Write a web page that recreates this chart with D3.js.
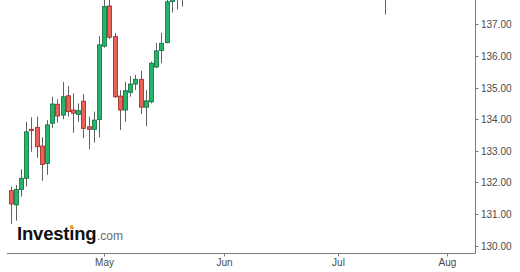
<!DOCTYPE html>
<html>
<head>
<meta charset="utf-8">
<script src="https://cdn.jsdelivr.net/npm/d3@7"></script>
<style>
  body { margin: 0; background: #fff; }
  svg { display: block; font-family: "Liberation Sans", Arial, sans-serif; }
</style>
</head>
<body>
<div id="chart"></div>
<script>
// USD/JPY daily candles (trading days, weekends skipped)
const dates = ["2023-04-05","2023-04-06","2023-04-07","2023-04-10","2023-04-11","2023-04-12","2023-04-13",
  "2023-04-14","2023-04-17","2023-04-18","2023-04-19","2023-04-20","2023-04-21","2023-04-24","2023-04-25",
  "2023-04-26","2023-04-27","2023-04-28","2023-05-01","2023-05-02","2023-05-03","2023-05-04","2023-05-05",
  "2023-05-08","2023-05-09","2023-05-10","2023-05-11","2023-05-12","2023-05-15","2023-05-16","2023-05-17",
  "2023-05-18","2023-05-19","2023-05-22","2023-07-14"];
const opens  = [131.74,131.29,131.78,132.13,133.68,133.74,133.15,132.60,133.87,134.47,134.13,134.74,134.29,134.15,
  134.57,133.76,133.68,133.99,136.31,137.58,136.61,134.73,134.29,134.85,135.11,135.26,134.38,134.55,135.65,
  136.17,136.42,137.72,138.65,137.95,138.05];
const highs  = [131.87,131.92,132.42,133.92,134.06,134.08,133.43,133.97,134.71,134.63,135.18,135.05,134.82,134.50,
  134.79,134.08,134.24,136.63,137.83,137.90,136.72,134.92,135.18,135.37,135.40,135.53,134.92,135.82,136.41,
  136.73,137.86,138.75,138.75,138.60,139.00];
const lows   = [130.69,130.79,131.55,131.87,132.97,132.78,132.05,132.24,133.72,133.89,134.00,134.08,133.57,133.92,
  133.40,133.05,133.26,133.43,136.26,136.53,134.67,133.66,133.92,134.71,134.92,134.16,133.78,134.50,135.62,
  135.77,136.40,137.37,137.47,137.56,137.31];
const closes = [131.32,131.78,132.13,133.60,133.64,133.13,132.57,133.82,134.48,134.10,134.71,134.24,134.19,134.27,
  133.71,133.68,133.97,136.35,137.56,136.59,134.71,134.29,134.90,135.11,135.26,134.38,134.58,135.77,136.16,
  136.40,137.71,138.65,137.95,138.60,138.80];

const monthLabels = ["May", "Jun", "Jul", "Aug"];
const monthDates  = ["2023-05-01", "2023-06-01", "2023-07-03", "2023-08-01"];
const priceTicks  = [130, 131, 132, 133, 134, 135, 136, 137];

const width = 520, height = 272;
const axisX = 475, axisY = 253;

// index of a date counted in weekdays from the first candle
const start = new Date(dates[0]);
function tradingIndex(s) {
  return d3.utcDay.range(start, new Date(s)).filter(d => d.getUTCDay() % 6 !== 0).length;
}

const x = d3.scaleLinear().domain([0, 84]).range([10.7, 447.3]);
const y = d3.scaleLinear().domain([130, 137]).range([245.7, 24.3]);

const data = dates.map((d, i) => ({
  i: tradingIndex(d), open: opens[i], high: highs[i], low: lows[i], close: closes[i]
}));

const svg = d3.select("#chart").append("svg")
  .attr("width", width)
  .attr("height", height);

// candles
const plot = svg.append("g");

plot.selectAll(".wick")
  .data(data)
  .enter().append("line")
  .attr("class", "wick")
  .attr("x1", d => Math.round(x(d.i)) + 0.5)
  .attr("x2", d => Math.round(x(d.i)) + 0.5)
  .attr("y1", d => y(d.high))
  .attr("y2", d => y(d.low))
  .style("stroke", "#5b6460")
  .style("stroke-width", 1);

plot.selectAll(".body")
  .data(data)
  .enter().append("rect")
  .attr("class", "body")
  .attr("x", d => Math.round(x(d.i)) - 1.5)
  .attr("width", 4)
  .attr("y", d => y(Math.max(d.open, d.close)))
  .attr("height", d => Math.max(1, Math.abs(y(d.open) - y(d.close))))
  .style("fill", d => d.close >= d.open ? "#26b36b" : "#e8625a")
  .style("stroke", d => d.close >= d.open ? "#167a45" : "#a5332c")
  .style("stroke-width", 0.9);

// logo
const logo = svg.append("g");
const inv = logo.append("text")
  .attr("x", 17)
  .attr("y", 240)
  .style("font-size", "18.5px")
  .style("font-weight", "bold")
  .style("letter-spacing", "-0.2px")
  .style("fill", "#111")
  .text("Investing");
logo.append("text")
  .attr("x", 17 + inv.node().getComputedTextLength() + 0.5)
  .attr("y", 240)
  .style("font-size", "12px")
  .style("fill", "#6b6b6b")
  .text(".com");
// orange dot over the second "i"
const box = inv.node().getExtentOfChar(6);
logo.append("circle")
  .attr("cx", box.x + box.width / 2 - 0.2)
  .attr("cy", 227)
  .attr("r", 2)
  .style("fill", "#f0a030");

// axes
svg.append("line")
  .attr("x1", 7).attr("x2", axisX + 0.5)
  .attr("y1", axisY + 0.5).attr("y2", axisY + 0.5)
  .style("stroke", "#7a7a7a");
svg.append("line")
  .attr("x1", axisX + 0.5).attr("x2", axisX + 0.5)
  .attr("y1", 0).attr("y2", axisY + 0.5)
  .style("stroke", "#7a7a7a");

const xt = svg.selectAll(".xtick")
  .data(monthLabels)
  .enter().append("g")
  .attr("class", "xtick")
  .attr("transform", (d, i) => "translate(" + (Math.round(x(tradingIndex(monthDates[i]))) + 0.5) + "," + axisY + ")");
xt.append("line")
  .attr("y1", 0).attr("y2", 3.5)
  .style("stroke", "#7a7a7a");
xt.append("text")
  .attr("y", 13)
  .attr("text-anchor", "middle")
  .style("font-size", "10px")
  .style("fill", "#4a4a4a")
  .text(d => d);

const yt = svg.selectAll(".ytick")
  .data(priceTicks)
  .enter().append("g")
  .attr("class", "ytick")
  .attr("transform", d => "translate(" + axisX + "," + (Math.round(y(d)) + 0.5) + ")");
yt.append("line")
  .attr("x1", 0).attr("x2", 3.5)
  .style("stroke", "#7a7a7a");
yt.append("text")
  .attr("x", 6)
  .attr("dy", "0.35em")
  .style("font-size", "10px")
  .style("fill", "#4a4a4a")
  .text(d => d.toFixed(2));
</script>
</body>
</html>
